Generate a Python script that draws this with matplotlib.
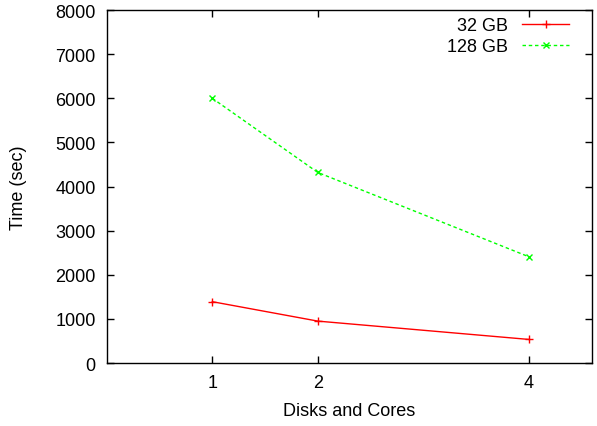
import matplotlib
matplotlib.use("Agg")
import matplotlib.pyplot as plt

plt.rcParams["font.family"] = ["Liberation Sans", "DejaVu Sans"]

# data
disks = [1, 2, 4]
time_32gb = [1390, 950, 535]
time_128gb = [6000, 4320, 2410]

fig = plt.figure(figsize=(5.97, 4.27), dpi=100)
ax = fig.add_axes([0.179, 0.1475, 0.8126, 0.8265])

ax.plot(disks, time_32gb, color="#ff0000", lw=1, marker="+", ms=6, mew=1, label="32 GB")
ax.plot(disks, time_128gb, color="#00ff00", lw=1, ls=(0, (2.5, 2)), marker="x", ms=5, mew=1,
        label="128 GB")

ax.set_xlim(0, 4.6)
ax.set_ylim(0, 8000)
ax.set_xticks(disks)
ax.set_yticks(range(0, 8001, 1000))
ax.tick_params(direction="in", top=True, right=True, labelsize=13, length=5, width=1, pad=8)
for s in ax.spines.values():
    s.set_linewidth(1)

ax.set_xlabel("Disks and Cores", fontsize=13, labelpad=8)
ax.set_ylabel("Time (sec)", fontsize=13, labelpad=20)

ax.legend(loc="upper right", frameon=False, markerfirst=False, fontsize=13,
          handlelength=2.6, handletextpad=0.8, labelspacing=0.2,
          borderaxespad=0.0, bbox_to_anchor=(0.968, 1.0))

fig.savefig("out.png", dpi=100)
